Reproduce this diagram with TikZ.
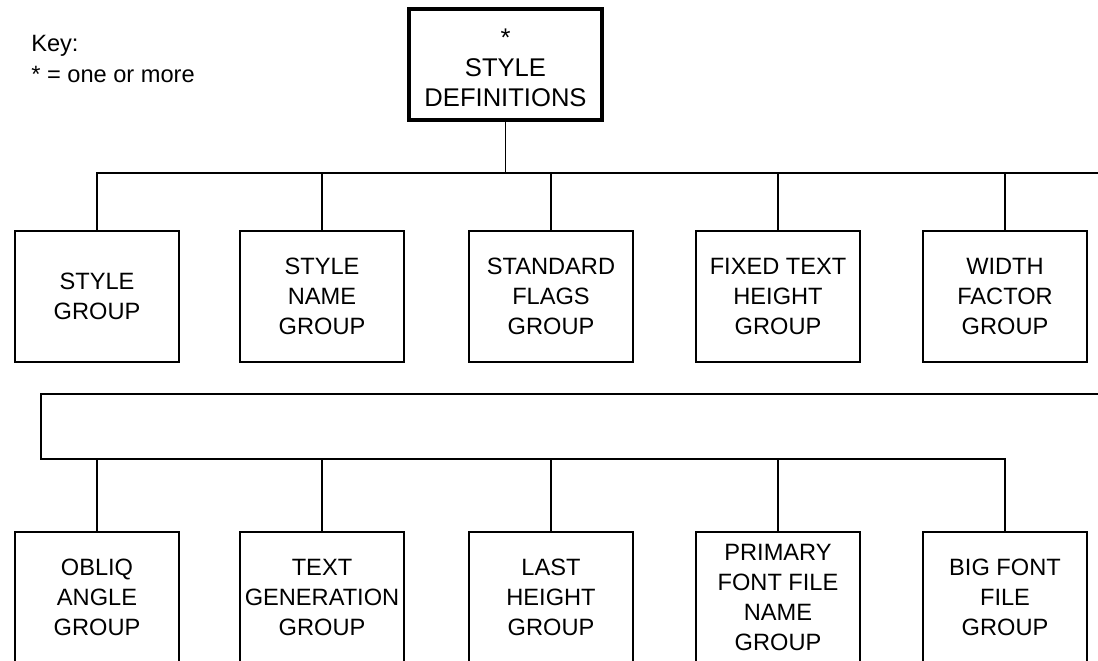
\documentclass[tikz,border=0pt]{standalone}
\usepackage{fontspec}
\setmainfont{Liberation Sans}
\usetikzlibrary{positioning}

\begin{document}
\begin{tikzpicture}[x=0.025cm, y=-0.025cm,
    txt/.style={font=\fontsize{16.8}{21.3}\selectfont},
    group/.style={txt, draw, line width=1.2pt, align=center, inner sep=0pt,
      minimum width=4.1cm, minimum height=3.275cm},
    rootbox/.style={group, line width=2.8pt, minimum width=4.825cm,
      minimum height=2.775cm, font=\fontsize{18.2}{21.3}\selectfont},
    link/.style={line width=1.2pt}]
  \useasboundingbox (0,0) rectangle (1098,661);
  %\draw [help lines] (0,0) grid [step=100] (1098,661);

  % key
  \node [txt, anchor=base west, inner sep=0pt] (key) at (31,52) {Key:};
  \node [txt, anchor=base west, inner sep=0pt] (keystar) at (31,83) {* = one or more};

  % root
  \node [rootbox] (defs) at (505.5,64.5) {\rule{0pt}{17.3pt}*\\STYLE\\DEFINITIONS};

  % first row
  \node [group] (g1) at (97,296.5)  {STYLE\\GROUP};
  \node [group] (g2) at (322,296.5) {STYLE\\NAME\\GROUP};
  \node [group] (g3) at (551,296.5) {STANDARD\\FLAGS\\GROUP};
  \node [group] (g4) at (778,296.5) {FIXED TEXT\\HEIGHT\\GROUP};
  \node [group] (g5) at (1005,296.5) {WIDTH\\FACTOR\\GROUP};

  % second row
  \node [group] (h1) at (97,597.5)  {OBLIQ\\ANGLE\\GROUP};
  \node [group] (h2) at (322,597.5) {TEXT\\GENERATION\\GROUP};
  \node [group] (h3) at (551,597.5) {LAST\\HEIGHT\\GROUP};
  \node [group] (h4) at (778,597.5) {PRIMARY\\FONT FILE\\NAME\\GROUP};
  \node [group] (h5) at (1005,597.5) {BIG FONT\\FILE\\GROUP};

  % bus to first row
  \coordinate (busR) at (1098,173);
  \draw [link] (g1.north) |- (busR);
  \draw [link] (defs.south) -- (defs.south |- busR);
  \foreach \n in {g2,g3,g4,g5}
    \draw [link] (\n.north) -- (\n.north |- busR);

  % wrap round to second row
  \coordinate (wrapR) at (1098,394);
  \coordinate (wrapL) at (41,394);
  \coordinate (wrapB) at (41,459);
  \draw [link] (wrapR) -- (wrapL) -- (wrapB) -| (h5.north);
  \foreach \n in {h1,h2,h3,h4}
    \draw [link] (\n.north) -- (\n.north |- wrapB);
\end{tikzpicture}
\end{document}
